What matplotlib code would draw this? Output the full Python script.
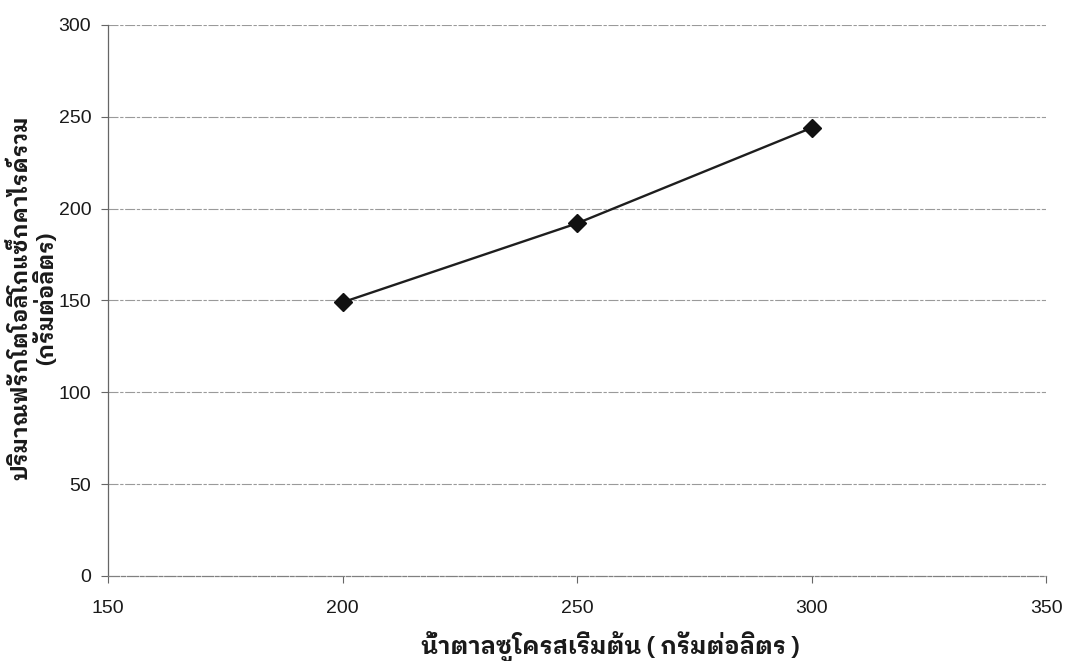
import matplotlib
matplotlib.use("Agg")
import matplotlib.pyplot as plt

# น้ำตาลซูโครสเริ่มต้น (g/L) และปริมาณฟรักโตโอลิโกแซ็กคาไรด์รวม (g/L)
sucrose = [200, 250, 300]
total_fos = [149, 192, 244]

x_ticks = [150, 200, 250, 300, 350]
y_ticks = [0, 50, 100, 150, 200, 250, 300]

xlabel = "น้ำตาลซูโครสเริ่มต้น ( กรัมต่อลิตร )"
ylabel = "ปริมาณฟรักโตโอลิโกแซ็กคาไรด์รวม\n(กรัมต่อลิตร)"

THAI = ["IBM Plex Sans Thai Looped", "Noto Sans Thai Looped", "DejaVu Sans"]
DIGITS = ["Liberation Sans", "DejaVu Sans"]

fig = plt.figure(figsize=(10.66, 6.61), dpi=100, facecolor="white")
ax = fig.add_axes([0.1013, 0.1286, 0.880, 0.8336])

# เส้นกริดแนวนอนแบบประ
grid_style = dict(color="#9a9a9a", linewidth=0.8, linestyle=(0, (9, 1.5, 3, 1.5)))
for y in y_ticks[1:]:
    ax.axhline(y, zorder=1, **grid_style)

ax.plot(sucrose, total_fos, color="#1e1e1e", linewidth=1.7,
        marker="D", markersize=9.5, markerfacecolor="#111111",
        markeredgecolor="#111111", zorder=3)

ax.set_xlim(150, 350)
ax.set_ylim(0, 300)
ax.set_xticks(x_ticks)
ax.set_yticks(y_ticks)

for side in ["top", "right"]:
    ax.spines[side].set_visible(False)
ax.spines["left"].set_color("#666666")
ax.spines["left"].set_linewidth(0.9)
ax.spines["bottom"].set_color("#808080")
ax.spines["bottom"].set_linewidth(0.9)
ax.spines["bottom"].set_linestyle((0, (9, 1.5, 3, 1.5)))

ax.tick_params(axis="y", direction="out", length=5, width=0.8,
               color="#666666", pad=7)
ax.tick_params(axis="x", direction="out", length=5, width=0.8,
               color="#666666", pad=12)
for lbl in ax.get_xticklabels() + ax.get_yticklabels():
    lbl.set_fontfamily(DIGITS)
    lbl.set_fontsize(14)
    lbl.set_color("#1a1a1a")

# ชื่อแกน
fig.text(610 / 1066, 1 - 647 / 661, xlabel, ha="center", va="center",
         fontsize=17, fontweight="bold", family=THAI, color="#1a1a1a")
fig.text(33 / 1066, 1 - 298 / 661, ylabel, ha="center", va="center",
         rotation=90, fontsize=16, fontweight="bold", family=THAI,
         color="#1a1a1a", linespacing=1.08, multialignment="center")

fig.savefig("out.png", dpi=100, facecolor="white")
